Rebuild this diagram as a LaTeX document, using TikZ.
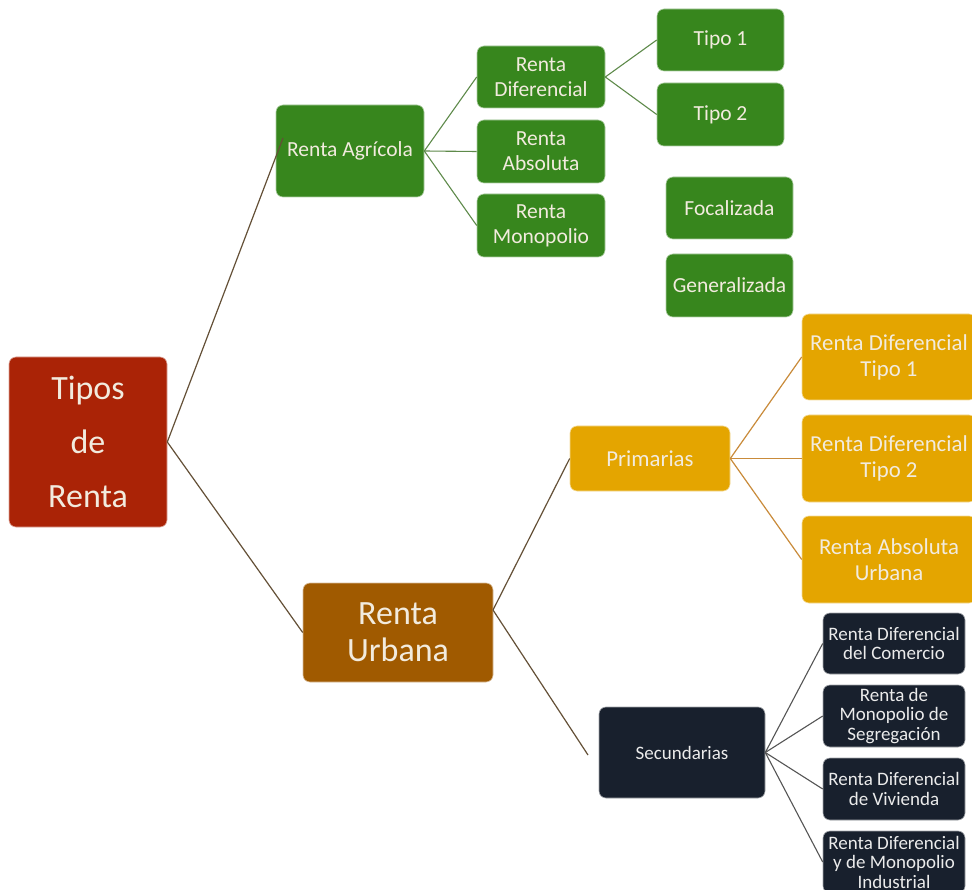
\documentclass[tikz,border=0pt]{standalone}
\usepackage{fontspec}
\setmainfont{Carlito}
\definecolor{cRed}{RGB}{170,35,6}
\definecolor{cGreen}{RGB}{55,134,29}
\definecolor{cOrange}{RGB}{228,165,0}
\definecolor{cBrown}{RGB}{160,90,0}
\definecolor{cNavy}{RGB}{24,32,45}
\definecolor{tLight}{RGB}{242,235,222}
\definecolor{lBrown}{RGB}{100,80,55}
\definecolor{lGreen}{RGB}{94,138,74}
\definecolor{lOrange}{RGB}{201,139,58}
\definecolor{lGray}{RGB}{85,85,85}
\begin{document}
\begin{tikzpicture}[x=1pt,y=-1pt,
  box/.style={rectangle, rounded corners=7pt, inner sep=0pt, align=center, line width=0.6pt},
  redbox/.style={box, fill=cRed, draw=cRed!40!white, text=tLight, font={\fontsize{34}{54}\selectfont}},
  greenbox/.style={box, fill=cGreen, draw=cGreen!40!white, text=tLight, font={\fontsize{21.5}{25}\selectfont}},
  brownbox/.style={box, fill=cBrown, draw=cBrown!40!white, text=tLight, font={\fontsize{34}{37}\selectfont}},
  orangebox/.style={box, fill=cOrange, draw=cOrange!40!white, text=tLight, font={\fontsize{22.8}{26}\selectfont}},
  navybox/.style={box, fill=cNavy, draw=cNavy!40!white, text=white!92!black, font={\fontsize{19}{19.5}\selectfont}},
  linkbrown/.style={draw=lBrown, line width=1.2pt},
  linkgreen/.style={draw=lGreen, line width=1.1pt},
  linkorange/.style={draw=lOrange, line width=1.2pt},
  linkgray/.style={draw=lGray, line width=1.1pt}
]
\useasboundingbox (0,0) rectangle (972,890);
\fill[white] (0,0) rectangle (972,890);

\node[redbox, minimum width=158, minimum height=170] (tipos) at (88,442) {Tipos\\de\\Renta};

\node[greenbox, minimum width=148, minimum height=92] (agri) at (350,151) {Renta Agrícola};
\node[greenbox, minimum width=128, minimum height=62] (rdif) at (541,77) {Renta\\Diferencial};
\node[greenbox, minimum width=128, minimum height=63] (rabs) at (541,151.5) {Renta\\Absoluta};
\node[greenbox, minimum width=128, minimum height=63] (rmon) at (541,225.5) {Renta\\Monopolio};
\node[greenbox, minimum width=127, minimum height=62] (tipo1) at (720.5,40) {Tipo 1};
\node[greenbox, minimum width=127, minimum height=63] (tipo2) at (720.5,114.5) {Tipo 2};
\node[greenbox, minimum width=127, minimum height=62] (foc) at (729.5,208) {Focalizada};
\node[greenbox, minimum width=127, minimum height=63] (gen) at (729.5,285.5) {Generalizada};

\node[brownbox, minimum width=190, minimum height=99] (urb) at (398,632.5) {Renta\\Urbana};

\node[orangebox, minimum width=160, minimum height=65] (prim) at (650,458.5) {Primarias};
\node[orangebox, minimum width=174, minimum height=86] (rdt1) at (889,357) {Renta Diferencial\\Tipo 1};
\node[orangebox, minimum width=174, minimum height=87] (rdt2) at (889,458.5) {Renta Diferencial\\Tipo 2};
\node[orangebox, minimum width=174, minimum height=87] (rau) at (889,559.5) {Renta Absoluta\\Urbana};

\node[navybox, minimum width=166, minimum height=91] (sec) at (682,752.5) {Secundarias};
\node[navybox, minimum width=142, minimum height=61] (rdc) at (894,643.5) {Renta Diferencial\\del Comercio};
\node[navybox, minimum width=142, minimum height=62] (rms) at (894,716) {Renta de\\Monopolio de\\Segregación};
\node[navybox, minimum width=142, minimum height=62] (rdv) at (894,789) {Renta Diferencial\\de Vivienda};
\node[navybox, minimum width=142, minimum height=62] (rdm) at (894,862) {Renta Diferencial\\y de Monopolio\\Industrial};

\coordinate (agriIn) at (283,138);
\coordinate (urbOut) at (493,610);
\coordinate (secIn) at (588,755);

\draw[linkbrown] (tipos.east) -- (agriIn);
\draw[linkbrown] (tipos.east) -- (urb.west);

\draw[linkgreen] (agri.east) -- (rdif.west);
\draw[linkgreen] (agri.east) -- (rabs.west);
\draw[linkgreen] (agri.east) -- (rmon.west);
\draw[linkgreen] (rdif.east) -- (tipo1.west);
\draw[linkgreen] (rdif.east) -- (tipo2.west);

\draw[linkbrown] (urbOut) -- (prim.west);
\draw[linkbrown] (urbOut) -- (secIn);

\draw[linkorange] (prim.east) -- (rdt1.west);
\draw[linkorange] (prim.east) -- (rdt2.west);
\draw[linkorange] (prim.east) -- (rau.west);

\draw[linkgray] (sec.east) -- (rdc.west);
\draw[linkgray] (sec.east) -- (rms.west);
\draw[linkgray] (sec.east) -- (rdv.west);
\draw[linkgray] (sec.east) -- (rdm.west);
\end{tikzpicture}
\end{document}
